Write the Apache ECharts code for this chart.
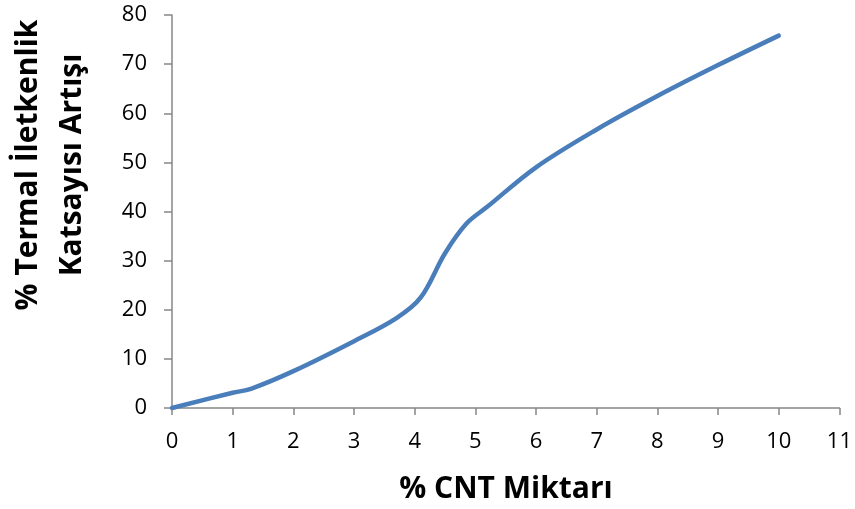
<!DOCTYPE html>
<html><head><meta charset="utf-8">
<script src="https://cdn.jsdelivr.net/npm/echarts@6/dist/echarts.min.js"></script>
<style>html,body{margin:0;padding:0;background:#fff}#c{width:855px;height:509px}</style>
</head><body><div id="c"></div>
<script>
var xValues = [0, 1, 1.3, 2, 3, 3.7, 4.1, 4.5, 4.85, 5.2, 6, 7, 8, 9, 10];
var yValues = [0, 3.1, 3.9, 7.5, 13.6, 18.3, 22.5, 31.5, 37.5, 41, 49, 56.7, 63.5, 69.8, 75.8];
var xTitle = '% CNT Miktarı';
var yTitleLines = ['% Termal İletkenlik', 'Katsayısı Artışı'];

var data = xValues.map(function (x, i) { return [x, yValues[i]]; });
var chart = echarts.init(document.getElementById('c'), null, {renderer: 'canvas'});
var font = '"Open Sans", "DejaVu Sans", sans-serif';
chart.setOption({
  animation: false,
  grid: {left: 172, right: 14, top: 15, bottom: 101},
  xAxis: {
    type: 'value', min: 0, max: 11, interval: 1,
    axisLine: {show: true, lineStyle: {color: '#868686', width: 1.5}},
    axisTick: {show: true, length: 7, lineStyle: {color: '#868686', width: 1.5}},
    axisLabel: {color: '#000', fontFamily: font, fontSize: 22, margin: 23},
    splitLine: {show: false}
  },
  yAxis: {
    type: 'value', min: 0, max: 80, interval: 10,
    axisLine: {show: true, lineStyle: {color: '#868686', width: 1.5}},
    axisTick: {show: true, length: 8, lineStyle: {color: '#868686', width: 1.5}},
    axisLabel: {color: '#000', fontFamily: font, fontSize: 22, margin: 25},
    splitLine: {show: false}
  },
  series: [{
    type: 'line', data: data, smooth: 0.35, symbol: 'none',
    lineStyle: {color: '#4A7EBB', width: 4.5, cap: 'round'}
  }],
  graphic: [
    {type: 'text', x: 506, y: 489, style: {text: xTitle, font: 'bold 30px ' + font, fill: '#000', align: 'center', verticalAlign: 'middle'}},
    {type: 'text', x: 28, y: 165, rotation: Math.PI / 2, style: {text: yTitleLines[0], font: 'bold 30px ' + font, fill: '#000', align: 'center', verticalAlign: 'middle'}},
    {type: 'text', x: 72, y: 165, rotation: Math.PI / 2, style: {text: yTitleLines[1], font: 'bold 30px ' + font, fill: '#000', align: 'center', verticalAlign: 'middle'}}
  ]
});
</script></body></html>
